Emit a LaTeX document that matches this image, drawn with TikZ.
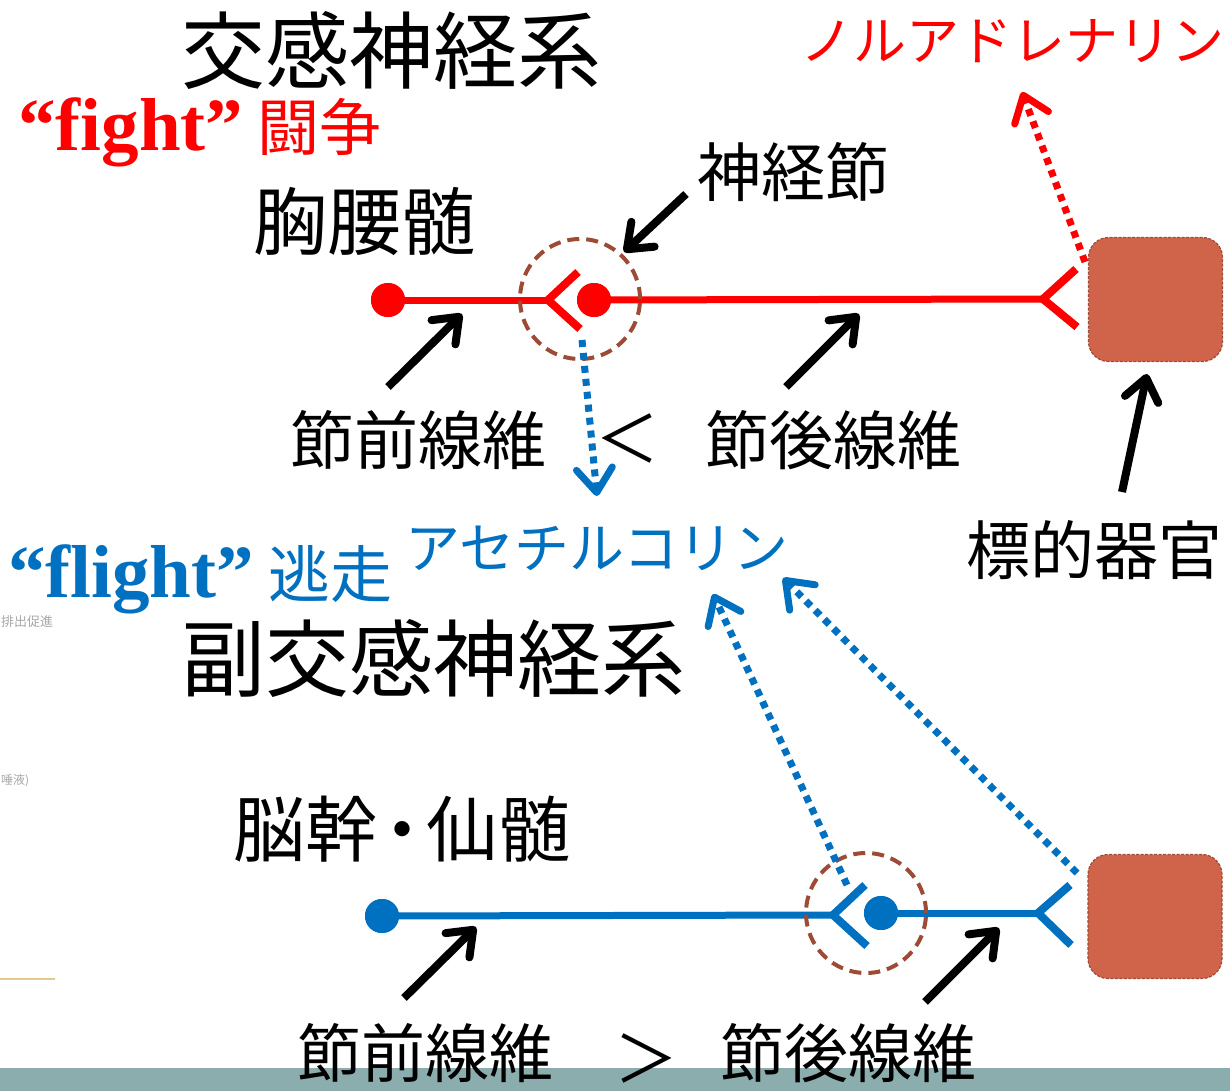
\documentclass[tikz,border=0pt]{standalone}
\usepackage{fontspec}
\setmainfont{Noto Sans CJK JP}
\newfontfamily\tnr{Liberation Serif}
\usetikzlibrary{arrows.meta}
\definecolor{nred}{HTML}{FF0000}
\definecolor{nblue}{HTML}{0070C0}
\definecolor{organc}{HTML}{D0644A}
\definecolor{organedge}{HTML}{A04A38}
\definecolor{gangc}{HTML}{9E4B36}
\definecolor{stripc}{HTML}{8CADAD}
\definecolor{faint}{HTML}{A8A8A8}
\definecolor{tan}{HTML}{E3C98F}
\newcommand\myfs[1]{\fontsize{#1}{#1}\selectfont}
\begin{document}
\begin{tikzpicture}[x=1pt,y=-1pt,
  lbl/.style={inner sep=0pt, anchor=center},
  lblb/.style={inner sep=0pt, anchor=base west},
  dot/.style={circle, inner sep=0pt, minimum size=34pt, draw=none},
  gang/.style={circle, draw=gangc, line width=4pt, dash pattern=on 12pt off 7pt, minimum size=120pt, inner sep=0pt},
  organ/.style={rectangle, rounded corners=20pt, fill=organc, draw=organedge, line width=1.2pt, dash pattern=on 3pt off 1.5pt, minimum width=134pt, minimum height=124pt, inner sep=0pt},
  axon/.style={line width=7pt},
  forkarm/.style={line width=8pt, line cap=butt, line join=miter},
  ptr/.style={black, line width=8pt, -{Straight Barb[length=22pt,width=34pt,round]}},
  release/.style={line width=7pt, dash pattern=on 7pt off 6pt, -{Straight Barb[length=24pt,width=36pt,round]}}
]
\useasboundingbox (0,0) rectangle (1230,1091);
\fill[white] (0,0) rectangle (1230,1091);
\fill[stripc] (0,1068) rectangle (1230,1091);

% faint residue on the left edge
\node[inner sep=0pt, anchor=west, text=faint] (res1) at (1,622) {\myfs{13}排出促進};
\node[inner sep=0pt, anchor=west, text=faint] (res2) at (1,781) {\myfs{12}唾液)};
\coordinate (tanA) at (0,979);
\coordinate (tanB) at (55,979);
\draw[tan, line width=1.5pt] (tanA) -- (tanB);

% ---------- titles and labels ----------
\node[lbl] (symp) at (391,50) {\myfs{84}交感神経系};
\node[lblb, text=nred] (fight) at (18,151) {{\tnr\bfseries\myfs{75}“fight”}\hspace{14pt}{\myfs{62}闘争}};
\node[lbl] (kyoyo) at (364,221) {\myfs{74}胸腰髄};
\node[lbl] (sset) at (793,172) {\myfs{64}神経節};
\node[lbl, text=nred] (nad) at (1012,41) {\myfs{53}ノルアドレナリン};
\node[lbl] (pre1) at (418,440) {\myfs{64}節前線維};
\node[lbl] (lt) at (627,438) {\myfs{64}＜};
\node[lbl] (post1) at (833,440) {\myfs{64}節後線維};
\node[lbl, text=nblue] (ach) at (597,548) {\myfs{55}アセチルコリン};
\node[lblb, text=nblue] (flight) at (8,597) {{\tnr\bfseries\myfs{75}“flight”}\hspace{14pt}{\myfs{62}逃走}};
\node[lbl] (target) at (1094,550) {\myfs{64}標的器官};
\node[lbl] (para) at (433,658) {\myfs{84}副交感神経系};
\node[lbl] (nokan) at (402,829) {\myfs{72}脳幹\hspace{-0.16em}・\hspace{-0.16em}仙髄};
\node[lbl] (pre2) at (425,1053) {\myfs{64}節前線維};
\node[lbl] (gt) at (646,1058) {\myfs{64}＞};
\node[lbl] (post2) at (848,1053) {\myfs{64}節後線維};

% ---------- sympathetic pathway (red) ----------
\node[organ] (o1) at (1155.5,299.5) {};
\coordinate (f1) at (548,300);
\coordinate (f1a) at (578,272);
\coordinate (f1b) at (580,329);
\coordinate (f2) at (1043,299);
\coordinate (f2a) at (1076,269);
\coordinate (f2b) at (1077,327);
\node[dot, fill=nred] (s1) at (388,300) {};
\node[dot, fill=nred] (s2) at (594,300) {};
\draw[nred, axon] (s1.center) -- (f1);
\draw[nred, axon] (s2.center) -- (f2);
\draw[nred, forkarm] (f1a) -- (f1) -- (f1b);
\draw[nred, forkarm] (f2a) -- (f2) -- (f2b);
\node[dot, fill=nred] at (s1) {};
\node[dot, fill=nred] at (s2) {};
\node[gang] (g1) at (580,299) {};

% noradrenaline release
\coordinate (naS) at (1085,262);
\coordinate (naT) at (1022,92);
\draw[nred, release] (naS) -- (naT);
% acetylcholine release at sympathetic ganglion
\coordinate (achS) at (582,340);
\coordinate (achT) at (597,496);
\draw[nblue, release] (achS) -- (achT);

% ---------- parasympathetic pathway (blue) ----------
\node[organ] (o2) at (1155,916.5) {};
\coordinate (f3) at (833,915);
\coordinate (f3a) at (865,885);
\coordinate (f3b) at (867,946);
\coordinate (f4) at (1038,913);
\coordinate (f4a) at (1070,885);
\coordinate (f4b) at (1071,945);
\node[dot, fill=nblue] (p1) at (382,916) {};
\node[dot, fill=nblue] (p2) at (881,913) {};
\draw[nblue, axon] (p1.center) -- (f3);
\draw[nblue, axon] (p2.center) -- (f4);
\draw[nblue, forkarm] (f3a) -- (f3) -- (f3b);
\draw[nblue, forkarm] (f4a) -- (f4) -- (f4b);
\node[dot, fill=nblue] at (p1) {};
\node[dot, fill=nblue] at (p2) {};
\node[gang] (g2) at (866,913) {};

\coordinate (ach2S) at (847,885);
\coordinate (ach2T) at (713,594);
\draw[nblue, release] (ach2S) -- (ach2T);
\coordinate (ach3S) at (1077,873);
\coordinate (ach3T) at (783,578);
\draw[nblue, release] (ach3S) -- (ach3T);

% ---------- black pointers ----------
\coordinate (pg1) at (686,194);
\coordinate (pg1t) at (624,252);
\draw[ptr] (pg1) -- (pg1t);
\coordinate (pp1) at (388,387);
\coordinate (pp1t) at (462,314);
\draw[ptr] (pp1) -- (pp1t);
\coordinate (pq1) at (786,387);
\coordinate (pq1t) at (859,314);
\draw[ptr] (pq1) -- (pq1t);
\coordinate (pt) at (1122,492);
\coordinate (ptt) at (1147,374);
\draw[ptr] (pt) -- (ptt);
\coordinate (pp2) at (404,998);
\coordinate (pp2t) at (476,927);
\draw[ptr] (pp2) -- (pp2t);
\coordinate (pq2) at (925,1002);
\coordinate (pq2t) at (999,928);
\draw[ptr] (pq2) -- (pq2t);
\end{tikzpicture}
\end{document}
